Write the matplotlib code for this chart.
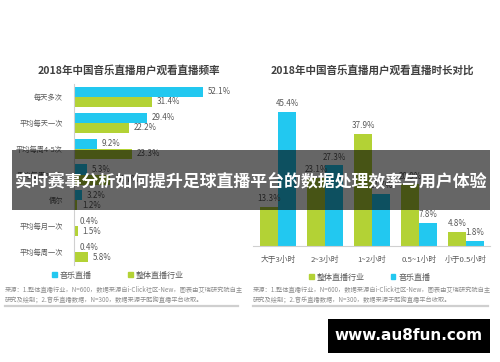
import matplotlib
matplotlib.use('Agg')
import matplotlib.pyplot as plt
import numpy as np
from matplotlib.patches import Rectangle, Patch

plt.rcParams['font.family'] = ['Noto Sans CJK SC', 'DejaVu Sans']

W, H = 500, 362

# 左图：观看频率
freq_labels = ['每天多次', '平均每天一次', '平均每周4-5次', '平均每周2-3次', '偶尔', '平均每月一次', '平均每周一次']
freq_music = [52.1, 29.4, 9.2, 5.3, 3.2, 0.4, 0.4]
freq_total = [31.4, 22.2, 23.3, 14.7, 1.2, 1.5, 5.8]

# 右图：观看时长
dur_labels = ['大于3小时', '2~3小时', '1~2小时', '0.5~1小时', '小于0.5小时']
dur_total = [13.3, 23.1, 37.9, 20.9, 4.8]
dur_music = [45.4, 27.3, 17.7, 7.8, 1.8]

source_text = ('来源：1.整体直播行业，N=600，数据来源自i-Click社区-New，图表由艾瑞研究院自主\n'
               '研究及绘制；2.音乐直播数据，N=300，数据来源于酷狗直播平台收取。')
banner = '实时赛事分析如何提升足球直播平台的数据处理效率与用户体验'
watermark = 'www.au8fun.com'

CYAN = '#22c8f0'
GREEN = '#b3d235'
TXT = '#595959'


def px_axes(fig, left, top, right, bottom):
    return fig.add_axes([left / W, 1 - bottom / H, (right - left) / W, (bottom - top) / H])


def fx(x):
    return x / W


def fy(y):
    return 1 - y / H


fig = plt.figure(figsize=(W / 100, H / 100), dpi=100)
fig.patch.set_facecolor('white')

# ---- 左图 ----
ax1 = px_axes(fig, 74, 84, 244, 265)
y = np.arange(len(freq_labels))
bh = 0.39
ax1.barh(y - bh / 2, freq_music, height=bh, color=CYAN)
ax1.barh(y + bh / 2, freq_total, height=bh, color=GREEN)
for i in range(len(y)):
    ax1.text(freq_music[i] + 2, y[i] - bh / 2, f'{freq_music[i]}%', va='center', ha='left',
             fontsize=5.8, color=TXT)
    ax1.text(freq_total[i] + 2, y[i] + bh / 2, f'{freq_total[i]}%', va='center', ha='left',
             fontsize=5.8, color=TXT)
ax1.set_xlim(0, 170 / 2.47)
ax1.set_ylim(6.5, -0.5)
ax1.set_yticks(y)
ax1.set_yticklabels(freq_labels, fontsize=5.2, color=TXT)
ax1.set_xticks([])
ax1.tick_params(axis='y', length=0, pad=8)
for s in ['top', 'right', 'bottom']:
    ax1.spines[s].set_visible(False)
ax1.spines['left'].set_color('#d0d0d0')
ax1.spines['left'].set_linewidth(0.8)
ax1.set_facecolor('none')

fig.text(fx(129), fy(70), '2018年中国音乐直播用户观看直播频率', ha='center', va='center',
         fontsize=7.6, fontweight='bold', color='#404040')
fig.legend(handles=[Patch(color=CYAN, label='音乐直播'), Patch(color=GREEN, label='整体直播行业')],
           loc='center', bbox_to_anchor=(fx(118), fy(275)), ncol=2, frameon=False,
           fontsize=5.8, handlelength=0.55, handleheight=0.55, handletextpad=0.4,
           columnspacing=4.5, labelcolor=TXT)

# ---- 右图 ----
ax2 = px_axes(fig, 253, 90, 490, 246)
x = np.arange(len(dur_labels))
bw = 0.383
ax2.bar(x - bw / 2, dur_total, width=bw, color=GREEN)
ax2.bar(x + bw / 2, dur_music, width=bw, color=CYAN)
for i in range(len(x)):
    ax2.text(x[i] - bw / 2, dur_total[i] + 1.3, f'{dur_total[i]}%', ha='center', va='bottom',
             fontsize=5.8, color=TXT)
    ax2.text(x[i] + bw / 2, dur_music[i] + 1.3, f'{dur_music[i]}%', ha='center', va='bottom',
             fontsize=5.8, color=TXT)
ax2.set_xlim(-25 / 47, 212 / 47)
ax2.set_ylim(0, 156 / 2.95)
ax2.set_xticks(x)
ax2.set_xticklabels(dur_labels, fontsize=5.6, color=TXT)
ax2.set_yticks([])
ax2.tick_params(axis='x', length=0, pad=7)
for s in ['top', 'right', 'left']:
    ax2.spines[s].set_visible(False)
ax2.spines['bottom'].set_color('#d0d0d0')
ax2.spines['bottom'].set_linewidth(0.8)
ax2.set_facecolor('none')

fig.text(fx(372), fy(70), '2018年中国音乐直播用户观看直播时长对比', ha='center', va='center',
         fontsize=7.6, fontweight='bold', color='#404040')
fig.legend(handles=[Patch(color=GREEN, label='整体直播行业'), Patch(color=CYAN, label='音乐直播')],
           loc='center', bbox_to_anchor=(fx(370), fy(277)), ncol=2, frameon=False,
           fontsize=5.8, handlelength=0.55, handleheight=0.55, handletextpad=0.4,
           columnspacing=3.2, labelcolor=TXT)

# 来源 + 底线
for x0, x1 in [(5, 238), (253, 488)]:
    fig.text(fx(x0), fy(295), source_text, ha='left', va='center', fontsize=4.5,
             color='#8c8c8c', linespacing=1.5)
    fig.add_artist(plt.Line2D([fx(x0), fx(x1)], [fy(306), fy(306)], color='#cfcfcf', lw=1.6))

# 横幅
fig.add_artist(Rectangle((fx(12), fy(210)), fx(478), 60 / H, transform=fig.transFigure,
                         facecolor='black', alpha=0.6, edgecolor='none', zorder=10))
fig.text(fx(251), fy(182), banner, ha='center', va='center', fontsize=12.2,
         fontweight='bold', color='white', zorder=11)

# 水印
fig.add_artist(Rectangle((fx(328), fy(353)), fx(162), 34 / H, transform=fig.transFigure,
                         facecolor='black', edgecolor='none', zorder=10))
fig.text(fx(409), fy(336), watermark, ha='center', va='center', fontsize=11,
         fontweight='bold', color='white', family='DejaVu Sans', zorder=11)

fig.savefig('out.png', dpi=100)
